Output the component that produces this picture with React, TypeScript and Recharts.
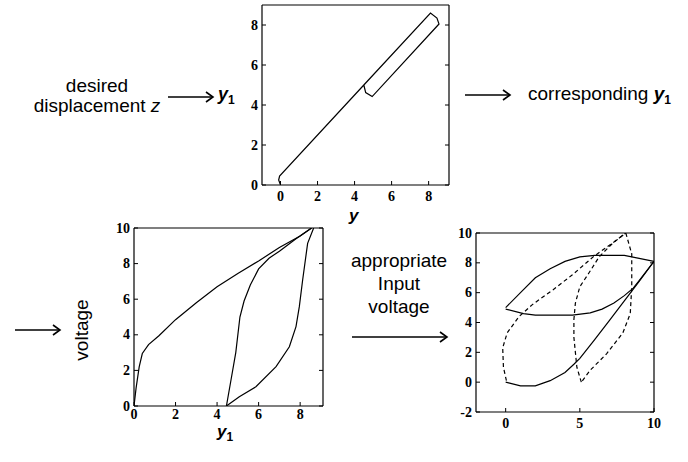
import { ComposedChart, Line, XAxis, YAxis } from 'recharts'

const SANS = '"Liberation Sans", Arial, Helvetica, sans-serif'
const SERIF = '"Liberation Serif", "Times New Roman", serif'

// top plot: y -> y1 map (one straight run plus the small loop near the top)
const mapY = [0, -0.1, -0.05, 4.5, 8.1, 8.45, 8.56, 4.95, 4.6, 4.5]
const mapY1 = [0, 0.25, 0.45, 5.0, 8.6, 8.35, 8.05, 4.42, 4.62, 5.0]
const topTicksX = [0, 2, 4, 6, 8]
const topTicksY = [0, 2, 4, 6, 8]

// bottom left: voltage against y1
const riseY1 = [0, 0.1, 0.25, 0.4, 0.7, 1.2, 2, 3, 4, 5, 6, 7, 8, 8.55]
const riseV = [0, 1, 2.2, 2.95, 3.45, 3.95, 4.85, 5.8, 6.7, 7.45, 8.15, 8.9, 9.55, 10]
const fallY1 = [8.55, 7.8, 7, 6.5, 6, 5.6, 5.3, 5.1, 4.9, 4.67, 4.45]
const fallV = [10, 9.4, 8.7, 8.3, 7.7, 6.8, 5.9, 5.0, 3.0, 1.46, 0]
const backY1 = [4.45, 5.07, 5.87, 6.84, 7.48, 7.8, 7.96, 8.12, 8.36, 8.65]
const backV = [0, 0.52, 1.08, 2.21, 3.33, 4.46, 5.58, 7.08, 9.14, 10]
const voltTicksX = [0, 2, 4, 6, 8]
const voltTicksY = [0, 2, 4, 6, 8, 10]

// bottom right: input voltage result (solid) and reference (dashed)
const lensUpX = [0, 1, 2, 3, 4, 5, 6, 7, 8, 9, 10]
const lensUpV = [5, 6, 7, 7.6, 8.1, 8.4, 8.5, 8.5, 8.5, 8.3, 8.1]
const lensLowX = [10, 9, 8.6, 8, 7.3, 6.5, 5.7, 4.5, 3, 2, 1.2, 0]
const lensLowV = [8.1, 6.8, 6.3, 5.8, 5.3, 4.9, 4.65, 4.5, 4.5, 4.5, 4.6, 4.9]
const sweepX = [10, 9, 8, 7, 6, 5, 4.6, 4, 3, 2, 1, 0.2, 0]
const sweepV = [8.1, 6.75, 5.45, 4.15, 2.85, 1.6, 1.2, 0.65, 0.1, -0.25, -0.25, -0.05, 0]
const dashAX = [0.05, -0.15, -0.2, 0.1, 0.9, 1.8, 3.2, 4.5, 5.9, 7.3, 8.1]
const dashAV = [0.1, 1, 2.3, 3.3, 4.4, 5.2, 6.2, 7.2, 8.4, 9.4, 10]
const dashBX = [8.1, 8.5, 8.5, 8.4, 7.9, 6.8, 5.7, 5.1]
const dashBV = [10, 8.6, 6.4, 4.6, 3.3, 1.9, 0.8, 0]
const dashCX = [5.1, 4.8, 4.6, 4.6, 4.7, 5.0, 5.6, 6.3, 7.2, 8.1]
const dashCV = [0, 1, 3, 4.2, 5.3, 6.4, 7.3, 8.4, 9.3, 10]
const outTicksX = [0, 5, 10]
const outTicksY = [-2, 0, 2, 4, 6, 8, 10]

interface Series {
  x: number[]
  y: number[]
  dashed?: boolean
}

interface PlotProps {
  left: number
  top: number
  width: number
  height: number
  xDomain: [number, number]
  yDomain: [number, number]
  xTicks: number[]
  yTicks: number[]
  series: Series[]
  xDrop: number
}

const TICK = 4
const axisLine = { stroke: '#000', strokeWidth: 1.2 }
const tickText = { fontFamily: SERIF, fontWeight: 700, fontSize: 14, fill: '#000' }

const pts = (xs: number[], ys: number[]) => xs.map((x, i) => ({ x, y: ys[i] }))

// ticks point into the box, labels sit outside
function BottomTick({ x, y, payload, drop }: any) {
  return (
    <g>
      <line x1={x} y1={y} x2={x} y2={y - TICK} stroke="#000" />
      <text x={x} y={y + drop} textAnchor="middle" {...tickText}>
        {payload.value}
      </text>
    </g>
  )
}

function LeftTick({ x, y, payload }: any) {
  return (
    <g>
      <line x1={x} y1={y} x2={x + TICK} y2={y} stroke="#000" />
      <text x={x - 4} y={y + 4.5} textAnchor="end" {...tickText}>
        {payload.value}
      </text>
    </g>
  )
}

function TopTick({ x, y }: any) {
  return <line x1={x} y1={y} x2={x} y2={y + TICK} stroke="#000" />
}

function RightTick({ x, y }: any) {
  return <line x1={x} y1={y} x2={x - TICK} y2={y} stroke="#000" />
}

function Plot({ left, top, width, height, xDomain, yDomain, xTicks, yTicks, series, xDrop }: PlotProps) {
  const YW = 40
  const XH = 30
  const PAD = 10
  return (
    <div style={{ position: 'absolute', left: left - YW, top: top - PAD }}>
      <ComposedChart
        width={width + YW + PAD}
        height={height + PAD + XH}
        margin={{ top: PAD - 1, right: PAD - 1, left: 0, bottom: 0 }}
      >
        <XAxis
          dataKey="x"
          type="number"
          domain={xDomain}
          allowDataOverflow
          ticks={xTicks}
          interval={0}
          height={XH}
          tickSize={0}
          tickMargin={0}
          tickLine={false}
          axisLine={axisLine}
          tick={(p: any) => <BottomTick {...p} drop={xDrop} />}
        />
        <XAxis
          xAxisId="top"
          orientation="top"
          type="number"
          domain={xDomain}
          allowDataOverflow
          ticks={xTicks}
          interval={0}
          height={1}
          tickSize={0}
          tickMargin={0}
          tickLine={false}
          axisLine={axisLine}
          tick={(p: any) => <TopTick {...p} />}
        />
        <YAxis
          type="number"
          domain={yDomain}
          allowDataOverflow
          ticks={yTicks}
          interval={0}
          width={YW}
          tickSize={0}
          tickMargin={0}
          tickLine={false}
          axisLine={axisLine}
          tick={(p: any) => <LeftTick {...p} />}
        />
        <YAxis
          yAxisId="right"
          orientation="right"
          type="number"
          domain={yDomain}
          allowDataOverflow
          ticks={yTicks}
          interval={0}
          width={1}
          tickSize={0}
          tickMargin={0}
          tickLine={false}
          axisLine={axisLine}
          tick={(p: any) => <RightTick {...p} />}
        />
        {series.map((s, i) => (
          <Line
            key={i}
            data={pts(s.x, s.y)}
            dataKey="y"
            type="linear"
            stroke="#000"
            strokeWidth={1.2}
            strokeDasharray={s.dashed ? '4 3' : undefined}
            dot={false}
            activeDot={false}
            isAnimationActive={false}
          />
        ))}
      </ComposedChart>
    </div>
  )
}

function Arrow({ x1, x2, y }: { x1: number; x2: number; y: number }) {
  return (
    <g stroke="#000" strokeWidth={1.6} fill="none">
      <line x1={x1} y1={y} x2={x2} y2={y} />
      <polyline points={`${x2 - 7},${y - 5} ${x2},${y} ${x2 - 7},${y + 5}`} />
    </g>
  )
}

function Y1({ x, y, size = 18, sub = true }: { x: number; y: number; size?: number; sub?: boolean }) {
  return (
    <text x={x} y={y} fontFamily={SANS} fontSize={size} fill="#000">
      <tspan fontStyle="italic" fontWeight={700}>
        y
      </tspan>
      {sub && (
        <tspan fontSize={12} fontWeight={700} dy={4}>
          1
        </tspan>
      )}
    </text>
  )
}

export default function App() {
  const label = { fontFamily: SANS, fontSize: 19, fill: '#000' }
  return (
    <div style={{ position: 'absolute', left: 0, top: 0, width: 688, height: 462, background: '#fff' }}>
      <Plot
        left={262}
        top={5}
        width={187}
        height={180}
        xDomain={[-1, 9.1]}
        yDomain={[0, 9]}
        xTicks={topTicksX}
        yTicks={topTicksY}
        series={[{ x: mapY, y: mapY1 }]}
        xDrop={16}
      />
      <Plot
        left={134}
        top={228}
        width={189}
        height={178}
        xDomain={[0, 9.1]}
        yDomain={[0, 10]}
        xTicks={voltTicksX}
        yTicks={voltTicksY}
        series={[
          { x: riseY1, y: riseV },
          { x: fallY1, y: fallV },
          { x: backY1, y: backV },
        ]}
        xDrop={12.5}
      />
      <Plot
        left={476}
        top={233}
        width={178}
        height={179}
        xDomain={[-2, 10]}
        yDomain={[-2, 10]}
        xTicks={outTicksX}
        yTicks={outTicksY}
        series={[
          { x: lensUpX, y: lensUpV },
          { x: lensLowX, y: lensLowV },
          { x: sweepX, y: sweepV },
          { x: dashAX, y: dashAV, dashed: true },
          { x: dashBX, y: dashBV, dashed: true },
          { x: dashCX, y: dashCV, dashed: true },
        ]}
        xDrop={16}
      />
      <svg
        width={688}
        height={462}
        style={{ position: 'absolute', left: 0, top: 0, pointerEvents: 'none' }}
      >
        <text x={97} y={92} textAnchor="middle" {...label}>
          desired
        </text>
        <text x={97} y={112} textAnchor="middle" {...label}>
          displacement <tspan fontStyle="italic">z</tspan>
        </text>
        <Arrow x1={168} x2={213} y={97} />
        <Y1 x={218} y={100} />

        <Arrow x1={465} x2={510} y={95} />
        <text x={528} y={99.5} {...label}>
          corresponding{' '}
          <tspan fontStyle="italic" fontWeight={700}>
            y
          </tspan>
          <tspan fontSize={12} fontWeight={700} dy={4}>
            1
          </tspan>
        </text>

        <Y1 x={349} y={221} size={17} sub={false} />

        <Arrow x1={15} x2={60} y={330} />
        <text x={88} y={330} textAnchor="middle" transform="rotate(-90 88 330)" {...label}>
          voltage
        </text>
        <Y1 x={217} y={437} size={17} />

        <text x={399} y={267} textAnchor="middle" {...label}>
          appropriate
        </text>
        <text x={399} y={290} textAnchor="middle" {...label}>
          Input
        </text>
        <text x={399} y={313} textAnchor="middle" {...label}>
          voltage
        </text>
        <Arrow x1={352} x2={447} y={337} />
      </svg>
    </div>
  )
}
